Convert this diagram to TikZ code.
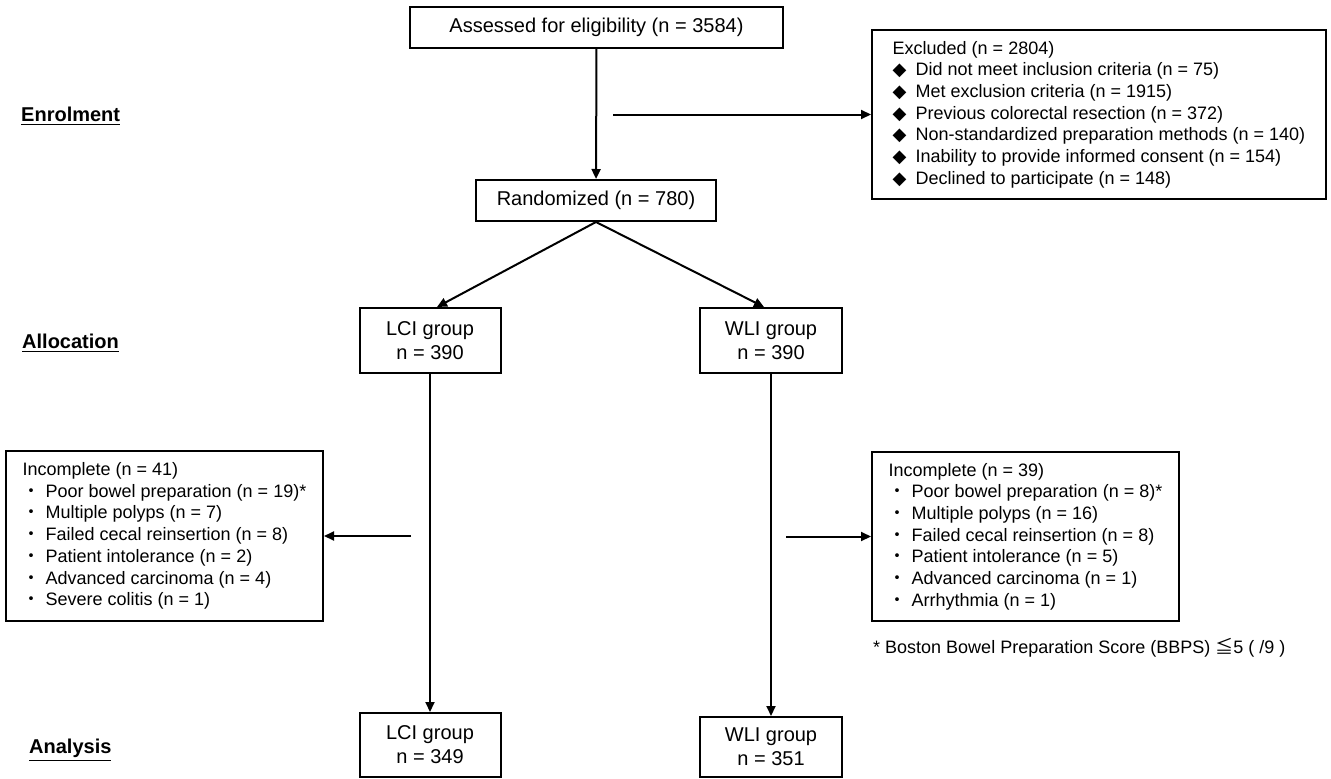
\documentclass[tikz,border=0pt]{standalone}
\usepackage{amssymb}
\usepackage{fontspec}
\setmainfont{Liberation Sans}
\newfontfamily\cjk{Noto Sans CJK JP}
\newfontfamily\symfont{DejaVu Sans}
\usetikzlibrary{arrows.meta}

\newcommand{\dia}{{\symfont ◆}\hspace{9pt}}
\newcommand{\dotitem}{{\cjk ・}\hspace{5pt}}

\begin{document}
\begin{tikzpicture}[x=1pt,y=-1pt,
    box/.style={draw,line width=2pt,inner sep=0pt,align=center,font=\fontsize{20}{24}\selectfont},
    listbox/.style={draw,line width=2pt,inner sep=0pt,align=left,font=\fontsize{18}{21.7}\selectfont},
    phase/.style={anchor=base west,inner sep=0pt,font=\fontsize{20}{24}\selectfont\bfseries},
    arr/.style={line width=2pt,-{Triangle[length=10pt,width=9pt]}}]

\useasboundingbox (0,0) rectangle (1331,779);

% phases
\node[phase] (enrol) at (21,121) {\underline{Enrolment}};
\node[phase] (alloc) at (22,348) {\underline{Allocation}};
\node[phase] (analys) at (29,753) {\underline{Analysis}};

% enrolment
\node[box,minimum width=373pt,minimum height=41pt] (assess) at (596.5,27.5) {Assessed for eligibility (n = 3584)};
\node[box,minimum width=240pt,minimum height=41pt] (rand) at (596,200.5) {Randomized (n = 780)};
\node[listbox,minimum width=454pt,minimum height=169pt] (excl) at (1099,114.5) {Excluded (n = 2804)\\
    \dia Did not meet inclusion criteria (n = 75)\\
    \dia Met exclusion criteria (n = 1915)\\
    \dia Previous colorectal resection (n = 372)\\
    \dia Non-standardized preparation methods (n = 140)\\
    \dia Inability to provide informed consent (n = 154)\\
    \dia Declined to participate (n = 148)};
\coordinate (exclfrom) at (613,114.5);

% allocation
\node[box,minimum width=141pt,minimum height=65pt] (lci) at (430,340.5) {LCI group\\n = 390};
\node[box,minimum width=142pt,minimum height=65pt] (wli) at (771,340.5) {WLI group\\n = 390};

\node[listbox,minimum width=317pt,minimum height=170pt] (incl) at (164.5,536) {Incomplete (n = 41)\\
    \dotitem Poor bowel preparation (n = 19)*\\
    \dotitem Multiple polyps (n = 7)\\
    \dotitem Failed cecal reinsertion (n = 8)\\
    \dotitem Patient intolerance (n = 2)\\
    \dotitem Advanced carcinoma (n = 4)\\
    \dotitem Severe colitis (n = 1)};
\node[listbox,minimum width=307pt,minimum height=169pt] (incr) at (1025.5,536.5) {Incomplete (n = 39)\\
    \dotitem Poor bowel preparation (n = 8)*\\
    \dotitem Multiple polyps (n = 16)\\
    \dotitem Failed cecal reinsertion (n = 8)\\
    \dotitem Patient intolerance (n = 5)\\
    \dotitem Advanced carcinoma (n = 1)\\
    \dotitem Arrhythmia (n = 1)};
\coordinate (lcifrom) at (411,536);
\coordinate (wlifrom) at (786,536.5);

\node[anchor=base west,inner sep=0pt,font=\fontsize{18}{21.7}\selectfont] (note) at (873,653) {* Boston Bowel Preparation Score (BBPS) {\cjk ≦}5 ( /9 )};

% analysis
\node[box,minimum width=141pt,minimum height=64pt] (lcia) at (430,745) {LCI group\\n = 349};
\node[box,minimum width=142pt,minimum height=60pt] (wlia) at (771,747) {WLI group\\n = 351};

% arrows
\draw[arr] (assess) -- (rand);
\draw[arr] (exclfrom) -- (excl.west);
\draw[arr] (rand.south) -- ([xshift=7pt]lci.north);
\draw[arr] (rand.south) -- ([xshift=-7pt]wli.north);
\draw[arr] (lci) -- (lcia);
\draw[arr] (wli) -- (wlia);
\draw[arr] (lcifrom) -- (incl.east);
\draw[arr] (wlifrom) -- (incr.west);
\end{tikzpicture}
\end{document}
